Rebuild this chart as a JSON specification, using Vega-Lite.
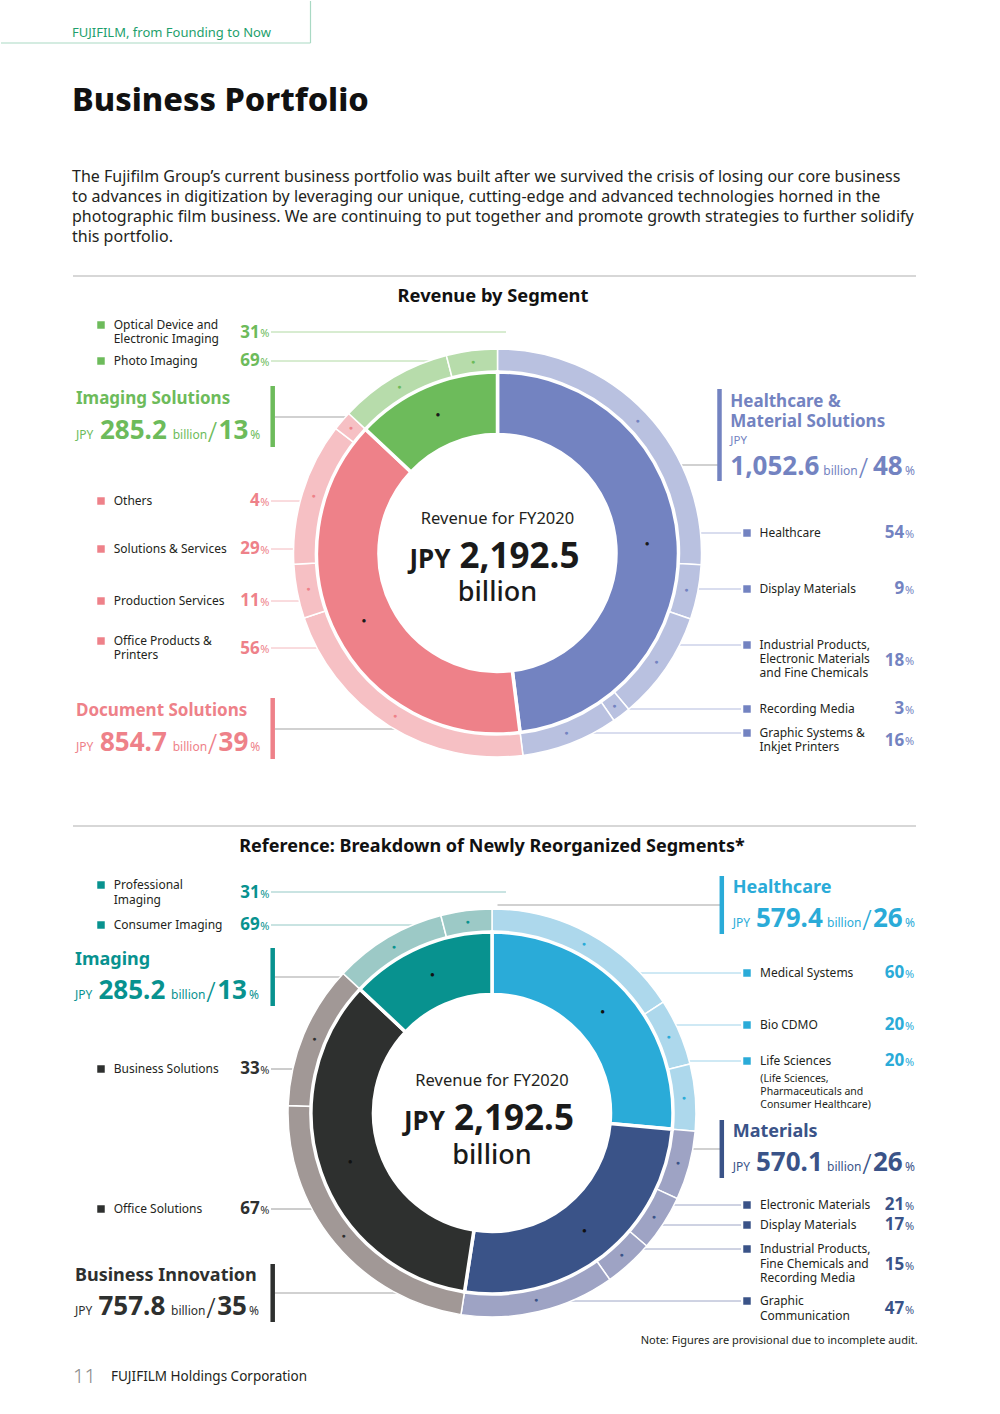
{
  "$schema": "https://vega.github.io/schema/vega-lite/v6.json",
  "padding": 0,
  "spacing": 0,
  "bounds": "flush",
  "background": "white",
  "resolve": {"scale": {"color": "independent", "fill": "independent", "stroke": "independent", "theta": "independent"}},
  "config": {"view": {"stroke": null}, "font": "Noto Sans", "text": {"font": "Noto Sans"}},
  "datasets": {
    "center": [{"label": "Revenue for FY2020", "total": "2,192.5"}],
    "seg1": [
      {"k": 1, "label": "Healthcare &\nMaterial Solutions", "seg": "Healthcare & Material Solutions", "value": 1052.6, "amt": "1,052.6", "pct": 48, "side": "R"},
      {"k": 2, "label": "Document Solutions", "seg": "Document Solutions", "value": 854.7, "amt": "854.7", "pct": 39, "side": "L"},
      {"k": 3, "label": "Imaging Solutions", "seg": "Imaging Solutions", "value": 285.2, "amt": "285.2", "pct": 13, "side": "L"}
    ],
    "sub1": [
      {"k": 1, "label": "Healthcare", "seg": "Healthcare & Material Solutions", "value": 568.4, "pct": 54, "side": "R"},
      {"k": 2, "label": "Display Materials", "seg": "Healthcare & Material Solutions", "value": 94.7, "pct": 9, "side": "R"},
      {"k": 3, "label": "Industrial Products,\nElectronic Materials\nand Fine Chemicals", "seg": "Healthcare & Material Solutions", "value": 189.5, "pct": 18, "side": "R"},
      {"k": 4, "label": "Recording Media", "seg": "Healthcare & Material Solutions", "value": 31.6, "pct": 3, "side": "R"},
      {"k": 5, "label": "Graphic Systems &\nInkjet Printers", "seg": "Healthcare & Material Solutions", "value": 168.4, "pct": 16, "side": "R"},
      {"k": 6, "label": "Office Products &\nPrinters", "seg": "Document Solutions", "value": 478.6, "pct": 56, "side": "L"},
      {"k": 7, "label": "Production Services", "seg": "Document Solutions", "value": 94.0, "pct": 11, "side": "L"},
      {"k": 8, "label": "Solutions & Services", "seg": "Document Solutions", "value": 247.9, "pct": 29, "side": "L"},
      {"k": 9, "label": "Others", "seg": "Document Solutions", "value": 34.2, "pct": 4, "side": "L"},
      {"k": 10, "label": "Photo Imaging", "seg": "Imaging Solutions", "value": 196.8, "pct": 69, "side": "L"},
      {"k": 11, "label": "Optical Device and\nElectronic Imaging", "seg": "Imaging Solutions", "value": 88.4, "pct": 31, "side": "L"}
    ],
    "seg2": [
      {"k": 1, "label": "Healthcare", "seg": "Healthcare", "value": 579.4, "amt": "579.4", "pct": 26, "side": "R"},
      {"k": 2, "label": "Materials", "seg": "Materials", "value": 570.1, "amt": "570.1", "pct": 26, "side": "R"},
      {"k": 3, "label": "Business Innovation", "seg": "Business Innovation", "value": 757.8, "amt": "757.8", "pct": 35, "side": "L"},
      {"k": 4, "label": "Imaging", "seg": "Imaging", "value": 285.2, "amt": "285.2", "pct": 13, "side": "L"}
    ],
    "sub2": [
      {"k": 1, "label": "Medical Systems", "seg": "Healthcare", "value": 347.6, "pct": 60, "side": "R"},
      {"k": 2, "label": "Bio CDMO", "seg": "Healthcare", "value": 115.9, "pct": 20, "side": "R"},
      {"k": 3, "label": "Life Sciences", "seg": "Healthcare", "value": 115.9, "pct": 20, "side": "R", "note": "(Life Sciences,\n\u00a0Pharmaceuticals and\n\u00a0Consumer Healthcare)"},
      {"k": 4, "label": "Electronic Materials", "seg": "Materials", "value": 119.7, "pct": 21, "side": "R"},
      {"k": 5, "label": "Display Materials", "seg": "Materials", "value": 96.9, "pct": 17, "side": "R"},
      {"k": 6, "label": "Industrial Products,\nFine Chemicals and\nRecording Media", "seg": "Materials", "value": 85.5, "pct": 15, "side": "R"},
      {"k": 7, "label": "Graphic\nCommunication", "seg": "Materials", "value": 268.0, "pct": 47, "side": "R"},
      {"k": 8, "label": "Office Solutions", "seg": "Business Innovation", "value": 507.7, "pct": 67, "side": "L"},
      {"k": 9, "label": "Business Solutions", "seg": "Business Innovation", "value": 250.1, "pct": 33, "side": "L"},
      {"k": 10, "label": "Consumer Imaging", "seg": "Imaging", "value": 196.8, "pct": 69, "side": "L"},
      {"k": 11, "label": "Professional\nImaging", "seg": "Imaging", "value": 88.4, "pct": 31, "side": "L"}
    ]
  },
  "vconcat": [
    {
      "width": 993,
      "height": 800,
      "encoding": {
        "y": {"field": "label", "type": "nominal", "axis": null, "scale": {"type": "point", "padding": 0, "range": [0, 800], "domain": [
          "page top","_1","_2","_3","_4","_5","_6","_7","FUJIFILM, from Founding to Now","_9",
          "tab edge","_11","_12","_13","_14","_15","_16","_17","_18","_19",
          "_20","_21","_22","_23","_24","Business Portfolio","_26","_27","_28","_29",
          "_30","_31","_32","_33","_34","_35","_36","_37","_38","_39",
          "_40","_41","_42","_43","The Fujifilm Group’s current business portfolio was built after we survived the crisis of losing our core business","_45","_46","_47","_48","to advances in digitization by leveraging our unique, cutting-edge and advanced technologies horned in the",
          "_50","_51","_52","_53","photographic film business. We are continuing to put together and promote growth strategies to further solidify","_55","_56","_57","_58","this portfolio.",
          "_60","_61","_62","_63","_64","_65","_66","_67","_68","divider",
          "_70","_71","_72","_73","Revenue by Segment","_75","_76","_77","_78","_79",
          "_80","Optical Device and\nElectronic Imaging","_82","_83","_84","_85","_86","_87","_88","_89",
          "Photo Imaging","_91","_92","_93","_94","_95","_96","_97","_98","_99",
          "_100","_101","_102","_103","Imaging Solutions","_105","_106","_107","_108","_109",
          "_110","_111","_112","Healthcare &\nMaterial Solutions","_114","_115","_116","_117","_118","_119",
          "_120","_121","_122","_123","_124","Others","_126","_127","_128","_129",
          "_130","_131","_132","Healthcare","_134","_135","_136","Solutions & Services","Revenue for FY2020","_139",
          "_140","_141","_142","_143","_144","_145","_146","Display Materials","_148","_149",
          "Production Services","_151","_152","_153","_154","_155","_156","_157","_158","_159",
          "Office Products &\nPrinters","Industrial Products,\nElectronic Materials\nand Fine Chemicals","_162","_163","_164","_165","_166","_167","_168","_169",
          "_170","_171","_172","_173","_174","_175","_176","Recording Media","_178","_179",
          "_180","_181","Document Solutions","Graphic Systems &\nInkjet Printers","_184","_185","_186","_187","_188","_189",
          "_190","_191","_192","_193","_194","_195","_196","_197","_198","_199",
          "_200"]}},
        "color": {"field": "seg", "type": "nominal", "legend": null, "scale": {"domain": ["Healthcare & Material Solutions", "Document Solutions", "Imaging Solutions"], "range": ["#7383C1", "#EE8189", "#6DBB5B"]}}
      },
      "resolve": {"scale": {"x": "independent"}},
      "layer": [
        {"data": {"values": [{}]}, "mark": {"type": "rule", "strokeWidth": 1.2, "yOffset": 2},
         "encoding": {"y": {"datum": "tab edge", "type": "nominal"}, "x": {"datum": "L", "type": "nominal", "axis": null, "scale": {"type": "point", "padding": 0, "domain": ["L", "R"], "range": [0, 309.5]}}, "x2": {"datum": "R"}, "color": {"value": "#A9D9C4"}}},
        {"data": {"values": [{}]}, "mark": {"type": "rule", "strokeWidth": 1.2, "y2Offset": 2},
         "encoding": {"y": {"datum": "page top", "type": "nominal"}, "y2": {"datum": "tab edge"}, "x": {"datum": "R", "type": "nominal", "axis": null, "scale": {"type": "point", "padding": 0, "domain": ["L", "R"], "range": [0, 309.5]}}, "color": {"value": "#A9D9C4"}}},
        {"data": {"values": [{"label": "FUJIFILM, from Founding to Now"}]}, "mark": {"type": "text", "align": "left", "baseline": "middle", "fontSize": 13},
         "encoding": {"text": {"field": "label"}, "x": {"datum": "L", "type": "nominal", "axis": null, "scale": {"type": "point", "padding": 0, "domain": ["L", "R"], "range": [71, 900]}}, "color": {"value": "#1E9F6C"}}},
        {"data": {"values": [{"label": "Business Portfolio"}]}, "mark": {"type": "text", "align": "left", "baseline": "middle", "fontSize": 32.5, "fontWeight": 800},
         "encoding": {"text": {"field": "label"}, "x": {"datum": "L", "type": "nominal", "axis": null, "scale": {"type": "point", "padding": 0, "domain": ["L", "R"], "range": [71, 900]}}, "color": {"value": "#111111"}}},
        {"data": {"values": [
          {"label": "The Fujifilm Group’s current business portfolio was built after we survived the crisis of losing our core business"},
          {"label": "to advances in digitization by leveraging our unique, cutting-edge and advanced technologies horned in the"},
          {"label": "photographic film business. We are continuing to put together and promote growth strategies to further solidify"},
          {"label": "this portfolio."}]},
         "mark": {"type": "text", "align": "left", "baseline": "middle", "fontSize": 16},
         "encoding": {"text": {"field": "label"}, "x": {"datum": "L", "type": "nominal", "axis": null, "scale": {"type": "point", "padding": 0, "domain": ["L", "R"], "range": [71, 900]}}, "color": {"value": "#231F20"}}},
        {"data": {"values": [{}]}, "mark": {"type": "rule", "strokeWidth": 1, "yOffset": -1},
         "encoding": {"y": {"datum": "divider", "type": "nominal"}, "x": {"datum": "L", "type": "nominal", "axis": null, "scale": {"type": "point", "padding": 0, "domain": ["L", "R"], "range": [72, 915]}}, "x2": {"datum": "R"}, "color": {"value": "#AFAFAF"}}},
        {"data": {"values": [{"label": "Revenue by Segment"}]}, "mark": {"type": "text", "align": "center", "baseline": "middle", "fontSize": 18.3, "fontWeight": "bold", "dx": -4.5},
         "encoding": {"text": {"field": "label"}, "color": {"value": "#111111"}}},

        {"data": {"name": "sub1"}, "transform": [{"filter": "datum.side == 'R' || indexof(datum.label, '\\n') < 0"}], "mark": {"type": "rule", "strokeWidth": 1},
         "encoding": {"x": {"field": "side", "type": "nominal", "axis": null, "scale": {"type": "point", "padding": 0, "domain": ["L", "C", "R"], "range": [270, 740]}}, "x2": {"datum": "C"},
           "stroke": {"field": "seg", "type": "nominal", "legend": null, "scale": {"domain": ["Healthcare & Material Solutions", "Document Solutions", "Imaging Solutions"], "range": ["#B3BBDE", "#F4B8BD", "#B0D9A2"]}}}},
        {"data": {"name": "sub1"}, "transform": [{"filter": "datum.side == 'L' && indexof(datum.label, '\\n') >= 0"}], "mark": {"type": "rule", "strokeWidth": 1, "yOffset": 7},
         "encoding": {"x": {"field": "side", "type": "nominal", "axis": null, "scale": {"type": "point", "padding": 0, "domain": ["L", "C", "R"], "range": [270, 740]}}, "x2": {"datum": "C"},
           "stroke": {"field": "seg", "type": "nominal", "legend": null, "scale": {"domain": ["Healthcare & Material Solutions", "Document Solutions", "Imaging Solutions"], "range": ["#B3BBDE", "#F4B8BD", "#B0D9A2"]}}}},
        {"data": {"name": "seg1"}, "transform": [{"filter": "datum.side == 'L'"}], "mark": {"type": "rule", "strokeWidth": 1.2},
         "encoding": {"x": {"field": "side", "type": "nominal", "axis": null, "scale": {"type": "point", "padding": 0, "domain": ["L", "C", "R"], "range": [274, 717]}}, "x2": {"datum": "C"}, "color": {"value": "#A3A3A3"}}},
        {"data": {"name": "seg1"}, "transform": [{"filter": "datum.side == 'R'"}], "mark": {"type": "rule", "strokeWidth": 1.2, "yOffset": 12},
         "encoding": {"x": {"field": "side", "type": "nominal", "axis": null, "scale": {"type": "point", "padding": 0, "domain": ["L", "C", "R"], "range": [274, 717]}}, "x2": {"datum": "C"}, "color": {"value": "#A3A3A3"}}},

        {"data": {"name": "sub1"}, "mark": {"type": "arc", "innerRadius": 181, "outerRadius": 204, "stroke": "white", "strokeWidth": 1.5},
         "encoding": {"y": {"datum": "Revenue for FY2020", "type": "nominal"}, "theta": {"field": "value", "type": "quantitative", "stack": true}, "order": {"field": "k", "type": "quantitative"},
           "fill": {"field": "seg", "type": "nominal", "legend": null, "scale": {"domain": ["Healthcare & Material Solutions", "Document Solutions", "Imaging Solutions"], "range": ["#B9C1E0", "#F6C0C4", "#B7DCAB"]}}}},
        {"data": {"name": "seg1"}, "mark": {"type": "arc", "innerRadius": 118.5, "outerRadius": 181, "stroke": "white", "strokeWidth": 3.5},
         "encoding": {"y": {"datum": "Revenue for FY2020", "type": "nominal"}, "theta": {"field": "value", "type": "quantitative", "stack": true}, "order": {"field": "k", "type": "quantitative"}}},
        {"data": {"values": [{}]}, "mark": {"type": "arc", "innerRadius": 0, "outerRadius": 118, "theta": 0, "theta2": 6.2832},
         "encoding": {"y": {"datum": "Revenue for FY2020", "type": "nominal"}, "color": {"value": "#FFFFFF"}}},
        {"data": {"name": "sub1"}, "mark": {"type": "text", "radius": 192.5, "fontSize": 7, "align": "center", "baseline": "middle"},
         "encoding": {"y": {"datum": "Revenue for FY2020", "type": "nominal"}, "theta": {"field": "value", "type": "quantitative", "stack": true}, "order": {"field": "k", "type": "quantitative"}, "text": {"value": "●"}}},
        {"data": {"name": "seg1"}, "mark": {"type": "text", "radius": 150, "fontSize": 8, "align": "center", "baseline": "middle"},
         "encoding": {"y": {"datum": "Revenue for FY2020", "type": "nominal"}, "theta": {"field": "value", "type": "quantitative", "stack": true}, "order": {"field": "k", "type": "quantitative"}, "text": {"value": "●"}, "color": {"value": "#1A1A1A"}}},

        {"data": {"name": "center"}, "mark": {"type": "text", "align": "center", "baseline": "middle", "fontSize": 16.5, "dy": -34.5},
         "encoding": {"text": {"field": "label"}, "color": {"value": "#231F20"}}},
        {"data": {"name": "center"}, "mark": {"type": "text", "align": "right", "baseline": "alphabetic", "fontSize": 26, "fontWeight": "bold", "dx": -47, "dy": 15},
         "encoding": {"text": {"value": "JPY"}, "color": {"value": "#1A1A1A"}}},
        {"data": {"name": "center"}, "mark": {"type": "text", "align": "left", "baseline": "alphabetic", "fontSize": 35, "fontWeight": "bold", "dx": -38, "dy": 15},
         "encoding": {"text": {"field": "total"}, "color": {"value": "#1A1A1A"}}},
        {"data": {"name": "center"}, "mark": {"type": "text", "align": "center", "baseline": "middle", "fontSize": 27, "fontWeight": 500, "dy": 40},
         "encoding": {"text": {"value": "billion"}, "color": {"value": "#1A1A1A"}}},

        {"data": {"name": "sub1"}, "mark": {"type": "square", "size": 56, "opacity": 1},
         "encoding": {"x": {"field": "side", "type": "nominal", "axis": null, "scale": {"type": "point", "padding": 0, "domain": ["L", "R"], "range": [100, 746]}}}},
        {"data": {"name": "sub1"}, "mark": {"type": "text", "align": "left", "baseline": "middle", "fontSize": 12, "lineHeight": 14, "lineBreak": "\n"},
         "encoding": {"x": {"field": "side", "type": "nominal", "axis": null, "scale": {"type": "point", "padding": 0, "domain": ["L", "R"], "range": [112.7, 758.5]}}, "text": {"field": "label"}, "color": {"value": "#231F20"}}},
        {"data": {"name": "sub1"}, "transform": [{"filter": "indexof(datum.label, '\\n') < 0"}], "mark": {"type": "text", "align": "right", "baseline": "middle", "fontSize": 17, "fontWeight": "bold"},
         "encoding": {"x": {"field": "side", "type": "nominal", "axis": null, "scale": {"type": "point", "padding": 0, "domain": ["L", "R"], "range": [258.7, 903.3]}}, "text": {"field": "pct", "type": "quantitative"}}},
        {"data": {"name": "sub1"}, "transform": [{"filter": "indexof(datum.label, '\\n') >= 0 && lastindexof(datum.label, '\\n') == indexof(datum.label, '\\n')"}], "mark": {"type": "text", "align": "right", "baseline": "middle", "fontSize": 17, "fontWeight": "bold", "dy": 7.5},
         "encoding": {"x": {"field": "side", "type": "nominal", "axis": null, "scale": {"type": "point", "padding": 0, "domain": ["L", "R"], "range": [258.7, 903.3]}}, "text": {"field": "pct", "type": "quantitative"}}},
        {"data": {"name": "sub1"}, "transform": [{"filter": "lastindexof(datum.label, '\\n') > indexof(datum.label, '\\n')"}], "mark": {"type": "text", "align": "right", "baseline": "middle", "fontSize": 17, "fontWeight": "bold", "dy": 15.5},
         "encoding": {"x": {"field": "side", "type": "nominal", "axis": null, "scale": {"type": "point", "padding": 0, "domain": ["L", "R"], "range": [258.7, 903.3]}}, "text": {"field": "pct", "type": "quantitative"}}},
        {"data": {"name": "sub1"}, "transform": [{"filter": "indexof(datum.label, '\\n') < 0"}], "mark": {"type": "text", "align": "left", "baseline": "middle", "fontSize": 11, "dy": 1.8},
         "encoding": {"x": {"field": "side", "type": "nominal", "axis": null, "scale": {"type": "point", "padding": 0, "domain": ["L", "R"], "range": [259.3, 904]}}, "text": {"value": "%"}}},
        {"data": {"name": "sub1"}, "transform": [{"filter": "indexof(datum.label, '\\n') >= 0 && lastindexof(datum.label, '\\n') == indexof(datum.label, '\\n')"}], "mark": {"type": "text", "align": "left", "baseline": "middle", "fontSize": 11, "dy": 9.3},
         "encoding": {"x": {"field": "side", "type": "nominal", "axis": null, "scale": {"type": "point", "padding": 0, "domain": ["L", "R"], "range": [259.3, 904]}}, "text": {"value": "%"}}},
        {"data": {"name": "sub1"}, "transform": [{"filter": "lastindexof(datum.label, '\\n') > indexof(datum.label, '\\n')"}], "mark": {"type": "text", "align": "left", "baseline": "middle", "fontSize": 11, "dy": 17.3},
         "encoding": {"x": {"field": "side", "type": "nominal", "axis": null, "scale": {"type": "point", "padding": 0, "domain": ["L", "R"], "range": [259.3, 904]}}, "text": {"value": "%"}}},

        {"data": {"name": "seg1"}, "transform": [{"filter": "datum.side == 'L'"}], "mark": {"type": "text", "align": "left", "baseline": "middle", "fontSize": 17, "fontWeight": "bold", "dy": -18.5},
         "encoding": {"x": {"field": "side", "type": "nominal", "axis": null, "scale": {"type": "point", "padding": 0, "domain": ["L", "R"], "range": [75, 729.3]}}, "text": {"field": "label"}}},
        {"data": {"name": "seg1"}, "transform": [{"filter": "datum.side == 'R'"}], "mark": {"type": "text", "align": "left", "baseline": "middle", "fontSize": 17, "fontWeight": "bold", "dy": -51, "lineHeight": 20, "lineBreak": "\n"},
         "encoding": {"x": {"field": "side", "type": "nominal", "axis": null, "scale": {"type": "point", "padding": 0, "domain": ["L", "R"], "range": [75, 729.3]}}, "text": {"field": "label"}}},
        {"data": {"name": "seg1"}, "transform": [{"filter": "datum.side == 'L'"}], "mark": {"type": "text", "align": "left", "baseline": "alphabetic", "fontSize": 12, "dy": 22},
         "encoding": {"x": {"field": "side", "type": "nominal", "axis": null, "scale": {"type": "point", "padding": 0, "domain": ["L", "R"], "range": [75, 729.3]}}, "text": {"value": "JPY"}}},
        {"data": {"name": "seg1"}, "transform": [{"filter": "datum.side == 'R'"}], "mark": {"type": "text", "align": "left", "baseline": "middle", "fontSize": 11.5, "dy": -12},
         "encoding": {"x": {"field": "side", "type": "nominal", "axis": null, "scale": {"type": "point", "padding": 0, "domain": ["L", "R"], "range": [75, 729.3]}}, "text": {"value": "JPY"}}},
        {"data": {"name": "seg1"}, "mark": {"type": "text", "align": "left", "baseline": "alphabetic", "fontSize": 26, "fontWeight": "bold", "dy": 22},
         "encoding": {"x": {"field": "side", "type": "nominal", "axis": null, "scale": {"type": "point", "padding": 0, "domain": ["L", "R"], "range": [99, 729.3]}}, "text": {"field": "amt"}}},
        {"data": {"name": "seg1"}, "mark": {"type": "text", "align": "left", "baseline": "alphabetic", "fontSize": 12, "dy": 22},
         "encoding": {"x": {"field": "side", "type": "nominal", "axis": null, "scale": {"type": "point", "padding": 0, "domain": ["L", "R"], "range": [171.7, 822.3]}}, "text": {"value": "billion"}}},
        {"data": {"name": "seg1"}, "mark": {"type": "text", "align": "center", "baseline": "alphabetic", "fontSize": 27, "fontWeight": 300, "dy": 25},
         "encoding": {"x": {"field": "side", "type": "nominal", "axis": null, "scale": {"type": "point", "padding": 0, "domain": ["L", "R"], "range": [211.5, 862.5]}}, "text": {"value": "/"}}},
        {"data": {"name": "seg1"}, "mark": {"type": "text", "align": "right", "baseline": "alphabetic", "fontSize": 26, "fontWeight": "bold", "dy": 22},
         "encoding": {"x": {"field": "side", "type": "nominal", "axis": null, "scale": {"type": "point", "padding": 0, "domain": ["L", "R"], "range": [247.3, 901.7]}}, "text": {"field": "pct", "type": "quantitative"}}},
        {"data": {"name": "seg1"}, "mark": {"type": "text", "align": "left", "baseline": "alphabetic", "fontSize": 12, "dy": 22},
         "encoding": {"x": {"field": "side", "type": "nominal", "axis": null, "scale": {"type": "point", "padding": 0, "domain": ["L", "R"], "range": [249.3, 904]}}, "text": {"value": "%"}}},
        {"data": {"name": "seg1"}, "transform": [{"filter": "datum.side == 'L'"}], "mark": {"type": "rule", "strokeWidth": 4.5, "yOffset": -31, "y2Offset": 30},
         "encoding": {"x": {"field": "side", "type": "nominal", "axis": null, "scale": {"type": "point", "padding": 0, "domain": ["L", "R"], "range": [271.7, 718.5]}}, "y2": {"field": "label"}}},
        {"data": {"name": "seg1"}, "transform": [{"filter": "datum.side == 'R'"}], "mark": {"type": "rule", "strokeWidth": 4.5, "yOffset": -64, "y2Offset": 28},
         "encoding": {"x": {"field": "side", "type": "nominal", "axis": null, "scale": {"type": "point", "padding": 0, "domain": ["L", "R"], "range": [271.7, 718.5]}}, "y2": {"field": "label"}}}
      ]
    },
    {
      "width": 982,
      "height": 614,
      "encoding": {
        "y": {"field": "label", "type": "nominal", "axis": null, "scale": {"type": "point", "padding": 0, "range": [0, 616], "domain": [
          "_0","_1","_2","_3","_4","_5","divider","_7","_8","_9",
          "_10","_11","Reference: Breakdown of Newly Reorganized Segments*","_13","_14","_15","_16","_17","_18","_19",
          "_20","Professional\nImaging","_22","_23","_24","_25","Healthcare","_27","_28","_29",
          "_30","Consumer Imaging","_32","_33","_34","_35","_36","_37","_38","_39",
          "_40","_41","_42","Medical Systems","Imaging","_45","_46","_47","_48","_49",
          "_50","_51","_52","_53","_54","_55","Bio CDMO","_57","_58","_59",
          "_60","_61","_62","_63","_64","Life Sciences","_66","Business Solutions","_68","_69",
          "_70","_71","_72","_73","_74","_75","_76","_77","Revenue for FY2020","_79",
          "_80","_81","_82","_83","_84","_85","_86","Materials","_88","_89",
          "_90","_91","_92","_93","_94","_95","_96","_97","_98","_99",
          "_100","Electronic Materials","Office Solutions","_103","_104","_105","Display Materials","_107","_108","_109",
          "_110","_111","Industrial Products,\nFine Chemicals and\nRecording Media","_113","_114","_115","_116","_117","_118","_119",
          "_120","_121","_122","Business Innovation","_124","Graphic\nCommunication","_126","_127","_128","_129",
          "_130","_131","_132","_133","_134","Note: Figures are provisional due to incomplete audit.","_136","_137","_138","_139",
          "_140","_141","_142","_143","FUJIFILM Holdings Corporation","_145","_146","_147","_148","_149",
          "_150","_151","_152","_153","_154"]}},
        "color": {"field": "seg", "type": "nominal", "legend": null, "scale": {"domain": ["Healthcare", "Materials", "Business Innovation", "Imaging"], "range": ["#2AABD8", "#3A5388", "#2E302F", "#08928F"]}}
      },
      "resolve": {"scale": {"x": "independent"}},
      "layer": [
        {"data": {"values": [{}]}, "mark": {"type": "rule", "strokeWidth": 1, "yOffset": 1},
         "encoding": {"y": {"datum": "divider", "type": "nominal"}, "x": {"datum": "L", "type": "nominal", "axis": null, "scale": {"type": "point", "padding": 0, "domain": ["L", "R"], "range": [72, 915]}}, "x2": {"datum": "R"}, "color": {"value": "#AFAFAF"}}},
        {"data": {"values": [{"label": "Reference: Breakdown of Newly Reorganized Segments*"}]}, "mark": {"type": "text", "align": "center", "baseline": "middle", "fontSize": 18, "fontWeight": "bold", "dy": -2},
         "encoding": {"text": {"field": "label"}, "color": {"value": "#111111"}}},

        {"data": {"name": "sub2"}, "transform": [{"filter": "datum.side == 'R' || indexof(datum.label, '\\n') < 0"}], "mark": {"type": "rule", "strokeWidth": 1},
         "encoding": {"x": {"field": "side", "type": "nominal", "axis": null, "scale": {"type": "point", "padding": 0, "domain": ["L", "C", "R"], "range": [270, 740]}}, "x2": {"datum": "C"},
           "stroke": {"field": "seg", "type": "nominal", "legend": null, "scale": {"domain": ["Healthcare", "Materials", "Business Innovation", "Imaging"], "range": ["#9FD3EA", "#9EA6C6", "#9A9A9A", "#93C8C5"]}}}},
        {"data": {"name": "sub2"}, "transform": [{"filter": "datum.side == 'L' && indexof(datum.label, '\\n') >= 0"}], "mark": {"type": "rule", "strokeWidth": 1, "yOffset": 7},
         "encoding": {"x": {"field": "side", "type": "nominal", "axis": null, "scale": {"type": "point", "padding": 0, "domain": ["L", "C", "R"], "range": [270, 740]}}, "x2": {"datum": "C"},
           "stroke": {"field": "seg", "type": "nominal", "legend": null, "scale": {"domain": ["Healthcare", "Materials", "Business Innovation", "Imaging"], "range": ["#9FD3EA", "#9EA6C6", "#9A9A9A", "#93C8C5"]}}}},
        {"data": {"name": "seg2"}, "mark": {"type": "rule", "strokeWidth": 1.2},
         "encoding": {"x": {"field": "side", "type": "nominal", "axis": null, "scale": {"type": "point", "padding": 0, "domain": ["L", "C", "R"], "range": [274, 719]}}, "x2": {"datum": "C"}, "color": {"value": "#A3A3A3"}}},

        {"data": {"name": "sub2"}, "mark": {"type": "arc", "innerRadius": 181, "outerRadius": 204, "stroke": "white", "strokeWidth": 1.5},
         "encoding": {"y": {"datum": "Revenue for FY2020", "type": "nominal"}, "theta": {"field": "value", "type": "quantitative", "stack": true}, "order": {"field": "k", "type": "quantitative"},
           "fill": {"field": "seg", "type": "nominal", "legend": null, "scale": {"domain": ["Healthcare", "Materials", "Business Innovation", "Imaging"], "range": ["#ADD8EC", "#9EA3C4", "#A19896", "#9CC9C6"]}}}},
        {"data": {"name": "seg2"}, "mark": {"type": "arc", "innerRadius": 118.5, "outerRadius": 181, "stroke": "white", "strokeWidth": 3.5},
         "encoding": {"y": {"datum": "Revenue for FY2020", "type": "nominal"}, "theta": {"field": "value", "type": "quantitative", "stack": true}, "order": {"field": "k", "type": "quantitative"}}},
        {"data": {"values": [{}]}, "mark": {"type": "arc", "innerRadius": 0, "outerRadius": 118, "theta": 0, "theta2": 6.2832},
         "encoding": {"y": {"datum": "Revenue for FY2020", "type": "nominal"}, "color": {"value": "#FFFFFF"}}},
        {"data": {"name": "sub2"}, "mark": {"type": "text", "radius": 192.5, "fontSize": 7, "align": "center", "baseline": "middle"},
         "encoding": {"y": {"datum": "Revenue for FY2020", "type": "nominal"}, "theta": {"field": "value", "type": "quantitative", "stack": true}, "order": {"field": "k", "type": "quantitative"}, "text": {"value": "●"}}},
        {"data": {"name": "seg2"}, "mark": {"type": "text", "radius": 150, "fontSize": 8, "align": "center", "baseline": "middle"},
         "encoding": {"y": {"datum": "Revenue for FY2020", "type": "nominal"}, "theta": {"field": "value", "type": "quantitative", "stack": true}, "order": {"field": "k", "type": "quantitative"}, "text": {"value": "●"}, "color": {"value": "#111111"}}},

        {"data": {"name": "center"}, "mark": {"type": "text", "align": "center", "baseline": "middle", "fontSize": 16.5, "dy": -32},
         "encoding": {"text": {"field": "label"}, "color": {"value": "#231F20"}}},
        {"data": {"name": "center"}, "mark": {"type": "text", "align": "right", "baseline": "alphabetic", "fontSize": 26, "fontWeight": "bold", "dx": -47, "dy": 17},
         "encoding": {"text": {"value": "JPY"}, "color": {"value": "#1A1A1A"}}},
        {"data": {"name": "center"}, "mark": {"type": "text", "align": "left", "baseline": "alphabetic", "fontSize": 35, "fontWeight": "bold", "dx": -38, "dy": 17},
         "encoding": {"text": {"field": "total"}, "color": {"value": "#1A1A1A"}}},
        {"data": {"name": "center"}, "mark": {"type": "text", "align": "center", "baseline": "middle", "fontSize": 27, "fontWeight": 500, "dy": 43},
         "encoding": {"text": {"value": "billion"}, "color": {"value": "#1A1A1A"}}},

        {"data": {"name": "sub2"}, "mark": {"type": "square", "size": 56, "opacity": 1},
         "encoding": {"x": {"field": "side", "type": "nominal", "axis": null, "scale": {"type": "point", "padding": 0, "domain": ["L", "R"], "range": [100, 746]}}}},
        {"data": {"name": "sub2"}, "mark": {"type": "text", "align": "left", "baseline": "middle", "fontSize": 12, "lineHeight": 14.5, "lineBreak": "\n"},
         "encoding": {"x": {"field": "side", "type": "nominal", "axis": null, "scale": {"type": "point", "padding": 0, "domain": ["L", "R"], "range": [112.7, 759]}}, "text": {"field": "label"}, "color": {"value": "#231F20"}}},
        {"data": {"name": "sub2"}, "transform": [{"filter": "isValid(datum.note)"}], "mark": {"type": "text", "align": "left", "baseline": "middle", "fontSize": 10.5, "lineHeight": 13, "lineBreak": "\n", "dy": 18},
         "encoding": {"x": {"field": "side", "type": "nominal", "axis": null, "scale": {"type": "point", "padding": 0, "domain": ["L", "R"], "range": [112.7, 759.3]}}, "text": {"field": "note"}, "color": {"value": "#231F20"}}},
        {"data": {"name": "sub2"}, "transform": [{"filter": "indexof(datum.label, '\\n') < 0"}], "mark": {"type": "text", "align": "right", "baseline": "middle", "fontSize": 17, "fontWeight": "bold"},
         "encoding": {"x": {"field": "side", "type": "nominal", "axis": null, "scale": {"type": "point", "padding": 0, "domain": ["L", "R"], "range": [258.7, 903.3]}}, "text": {"field": "pct", "type": "quantitative"}}},
        {"data": {"name": "sub2"}, "transform": [{"filter": "indexof(datum.label, '\\n') >= 0 && lastindexof(datum.label, '\\n') == indexof(datum.label, '\\n')"}], "mark": {"type": "text", "align": "right", "baseline": "middle", "fontSize": 17, "fontWeight": "bold", "dy": 8},
         "encoding": {"x": {"field": "side", "type": "nominal", "axis": null, "scale": {"type": "point", "padding": 0, "domain": ["L", "R"], "range": [258.7, 903.3]}}, "text": {"field": "pct", "type": "quantitative"}}},
        {"data": {"name": "sub2"}, "transform": [{"filter": "lastindexof(datum.label, '\\n') > indexof(datum.label, '\\n')"}], "mark": {"type": "text", "align": "right", "baseline": "middle", "fontSize": 17, "fontWeight": "bold", "dy": 16},
         "encoding": {"x": {"field": "side", "type": "nominal", "axis": null, "scale": {"type": "point", "padding": 0, "domain": ["L", "R"], "range": [258.7, 903.3]}}, "text": {"field": "pct", "type": "quantitative"}}},
        {"data": {"name": "sub2"}, "transform": [{"filter": "indexof(datum.label, '\\n') < 0"}], "mark": {"type": "text", "align": "left", "baseline": "middle", "fontSize": 11, "dy": 1.8},
         "encoding": {"x": {"field": "side", "type": "nominal", "axis": null, "scale": {"type": "point", "padding": 0, "domain": ["L", "R"], "range": [259.3, 904]}}, "text": {"value": "%"}}},
        {"data": {"name": "sub2"}, "transform": [{"filter": "indexof(datum.label, '\\n') >= 0 && lastindexof(datum.label, '\\n') == indexof(datum.label, '\\n')"}], "mark": {"type": "text", "align": "left", "baseline": "middle", "fontSize": 11, "dy": 9.8},
         "encoding": {"x": {"field": "side", "type": "nominal", "axis": null, "scale": {"type": "point", "padding": 0, "domain": ["L", "R"], "range": [259.3, 904]}}, "text": {"value": "%"}}},
        {"data": {"name": "sub2"}, "transform": [{"filter": "lastindexof(datum.label, '\\n') > indexof(datum.label, '\\n')"}], "mark": {"type": "text", "align": "left", "baseline": "middle", "fontSize": 11, "dy": 17.8},
         "encoding": {"x": {"field": "side", "type": "nominal", "axis": null, "scale": {"type": "point", "padding": 0, "domain": ["L", "R"], "range": [259.3, 904]}}, "text": {"value": "%"}}},

        {"data": {"name": "seg2"}, "mark": {"type": "text", "align": "left", "baseline": "middle", "fontSize": 18, "fontWeight": "bold", "dy": -17},
         "encoding": {"x": {"field": "side", "type": "nominal", "axis": null, "scale": {"type": "point", "padding": 0, "domain": ["L", "R"], "range": [74, 731.7]}}, "text": {"field": "label"}}},
        {"data": {"name": "seg2"}, "mark": {"type": "text", "align": "left", "baseline": "alphabetic", "fontSize": 12, "dy": 22},
         "encoding": {"x": {"field": "side", "type": "nominal", "axis": null, "scale": {"type": "point", "padding": 0, "domain": ["L", "R"], "range": [74, 731.7]}}, "text": {"value": "JPY"}}},
        {"data": {"name": "seg2"}, "mark": {"type": "text", "align": "left", "baseline": "alphabetic", "fontSize": 26, "fontWeight": "bold", "dy": 22},
         "encoding": {"x": {"field": "side", "type": "nominal", "axis": null, "scale": {"type": "point", "padding": 0, "domain": ["L", "R"], "range": [97.5, 755]}}, "text": {"field": "amt"}}},
        {"data": {"name": "seg2"}, "mark": {"type": "text", "align": "left", "baseline": "alphabetic", "fontSize": 12, "dy": 22},
         "encoding": {"x": {"field": "side", "type": "nominal", "axis": null, "scale": {"type": "point", "padding": 0, "domain": ["L", "R"], "range": [170, 826]}}, "text": {"value": "billion"}}},
        {"data": {"name": "seg2"}, "mark": {"type": "text", "align": "center", "baseline": "alphabetic", "fontSize": 27, "fontWeight": 300, "dy": 25},
         "encoding": {"x": {"field": "side", "type": "nominal", "axis": null, "scale": {"type": "point", "padding": 0, "domain": ["L", "R"], "range": [210, 866]}}, "text": {"value": "/"}}},
        {"data": {"name": "seg2"}, "mark": {"type": "text", "align": "right", "baseline": "alphabetic", "fontSize": 26, "fontWeight": "bold", "dy": 22},
         "encoding": {"x": {"field": "side", "type": "nominal", "axis": null, "scale": {"type": "point", "padding": 0, "domain": ["L", "R"], "range": [246, 901.7]}}, "text": {"field": "pct", "type": "quantitative"}}},
        {"data": {"name": "seg2"}, "mark": {"type": "text", "align": "left", "baseline": "alphabetic", "fontSize": 12, "dy": 22},
         "encoding": {"x": {"field": "side", "type": "nominal", "axis": null, "scale": {"type": "point", "padding": 0, "domain": ["L", "R"], "range": [248, 904]}}, "text": {"value": "%"}}},
        {"data": {"name": "seg2"}, "mark": {"type": "rule", "strokeWidth": 4.5, "yOffset": -29, "y2Offset": 29},
         "encoding": {"x": {"field": "side", "type": "nominal", "axis": null, "scale": {"type": "point", "padding": 0, "domain": ["L", "R"], "range": [271.7, 720.8]}}, "y2": {"field": "label"}}},

        {"data": {"values": [{"label": "Note: Figures are provisional due to incomplete audit."}]}, "mark": {"type": "text", "align": "right", "baseline": "middle", "fontSize": 11},
         "encoding": {"text": {"field": "label"}, "x": {"datum": "R", "type": "nominal", "axis": null, "scale": {"type": "point", "padding": 0, "domain": ["L", "R"], "range": [72, 916.7]}}, "color": {"value": "#231F20"}}},
        {"data": {"values": [{"label": "FUJIFILM Holdings Corporation", "page": "11"}]}, "mark": {"type": "text", "align": "left", "baseline": "middle", "fontSize": 13.5},
         "encoding": {"text": {"field": "label"}, "x": {"datum": "L", "type": "nominal", "axis": null, "scale": {"type": "point", "padding": 0, "domain": ["L", "R"], "range": [110, 900]}}, "color": {"value": "#231F20"}}},
        {"data": {"values": [{"label": "FUJIFILM Holdings Corporation", "page": "11"}]}, "mark": {"type": "text", "align": "left", "baseline": "middle", "fontSize": 20, "fontWeight": 300},
         "encoding": {"text": {"field": "page"}, "x": {"datum": "L", "type": "nominal", "axis": null, "scale": {"type": "point", "padding": 0, "domain": ["L", "R"], "range": [72, 900]}}, "color": {"value": "#8C8C8C"}}}
      ]
    }
  ]
}
